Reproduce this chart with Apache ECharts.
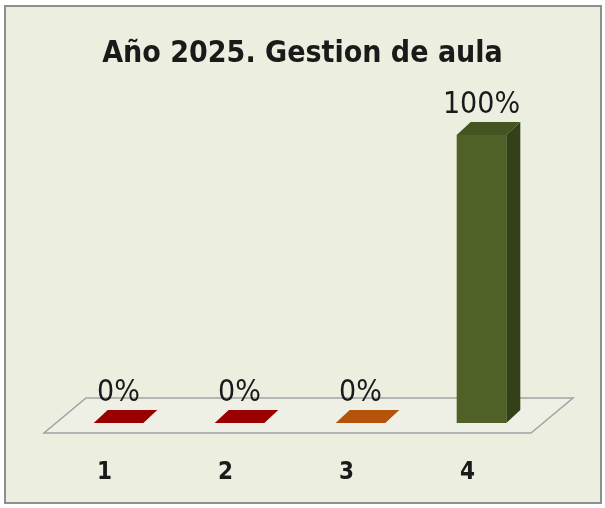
<!DOCTYPE html>
<html lang="es">
<head>
  <meta charset="UTF-8">
  <title>Año 2025. Gestion de aula</title>
  <script src="https://cdn.jsdelivr.net/npm/echarts@6/dist/echarts.min.js"></script>
  <style>
    * { margin: 0; padding: 0; }
    body { background: #ffffff; }
    #chart { width: 605px; height: 508px; }
  </style>
</head>
<body>
  <div id="chart"></div>
  <script>
    // datos
    const categories = ['1', '2', '3', '4'];
    const values = [0, 0, 0, 100];
    const frontColors = ['#990000', '#990000', '#b5530a', '#4f6127'];
    const sideColors = ['#770000', '#770000', '#8f4008', '#334018'];
    const topColors = ['#990000', '#990000', '#b5530a', '#455521'];

    const FONT = '"Liberation Sans Narrow", "DejaVu Sans Condensed", "Liberation Sans", sans-serif';

    const chart = echarts.init(document.getElementById('chart'));

    // bar placed inside the floor depth
    const ox = 14, oy = -10;   // shift of bar front from floor front edge
    const dx = 14, dy = -13;   // bar depth
    const fdx = 42, fdy = -35; // floor depth

    const option = {
      animation: false,
      graphic: [{
        type: 'rect',
        z: -10,
        shape: { x: 5, y: 6, width: 596, height: 497 },
        style: { fill: '#eceee0', stroke: '#8e8e8e', lineWidth: 2 }
      }],
      title: {
        text: 'Año 2025. Gestion de aula',
        left: 'center',
        top: 34,
        textStyle: { fontFamily: FONT, fontSize: 30, fontWeight: 'bold', color: '#1a1a1a' }
      },
      grid: { left: 44, right: 77, top: 145, bottom: 75 },
      xAxis: {
        type: 'category',
        data: categories,
        axisLine: { show: false },
        axisTick: { show: false },
        axisLabel: {
          margin: 28,
          fontFamily: FONT,
          fontSize: 24,
          fontWeight: 'bold',
          color: '#1a1a1a'
        }
      },
      yAxis: { type: 'value', min: 0, max: 100, show: false, splitLine: { show: false } },
      series: [
        {
          // floor
          type: 'custom',
          z: 1,
          data: [[0, 0]],
          renderItem: function (params, api) {
            const band = api.size([1, 0])[0];
            const first = api.coord([0, 0]);
            const last = api.coord([categories.length - 1, 0]);
            const xl = first[0] - band / 2, xr = last[0] + band / 2 + 3, y = first[1];
            return {
              type: 'polygon',
              shape: { points: [[xl, y], [xr, y], [xr + fdx, y + fdy], [xl + fdx, y + fdy]] },
              style: { fill: '#eef0e5', stroke: '#a3a3a3', lineWidth: 1.5 }
            };
          }
        },
        {
          type: 'custom',
          z: 2,
          data: values.map((v, i) => [i, v]),
          encode: { x: 0, y: 1 },
          renderItem: function (params, api) {
            const i = api.value(0), v = api.value(1);
            const base = api.coord([i, 0]);
            const top = api.coord([i, v]);
            const band = api.size([1, 0])[0];
            const w = band * 0.41;
            const x0 = base[0] + ox - w / 2, x1 = x0 + w;
            const yb = base[1] + oy, yt = top[1] + oy;
            const children = [];
            if (yb - yt > 0) {
              children.push({
                type: 'rect',
                shape: { x: x0, y: yt, width: w, height: yb - yt },
                style: { fill: frontColors[i] }
              });
              children.push({
                type: 'polygon',
                shape: { points: [[x1, yb], [x1 + dx, yb + dy], [x1 + dx, yt + dy], [x1, yt]] },
                style: { fill: sideColors[i] }
              });
            }
            children.push({
              type: 'polygon',
              shape: { points: [[x0, yt], [x1, yt], [x1 + dx, yt + dy], [x0 + dx, yt + dy]] },
              style: { fill: topColors[i] }
            });
            children.push({
              type: 'text',
              style: {
                text: v + '%',
                x: (x0 + x1) / 2,
                y: yt + dy - 2,
                align: 'center',
                verticalAlign: 'bottom',
                fontFamily: FONT,
                fontSize: 30,
                fill: '#1a1a1a'
              }
            });
            return { type: 'group', children: children };
          }
        }
      ]
    };

    chart.setOption(option);
  </script>
</body>
</html>
